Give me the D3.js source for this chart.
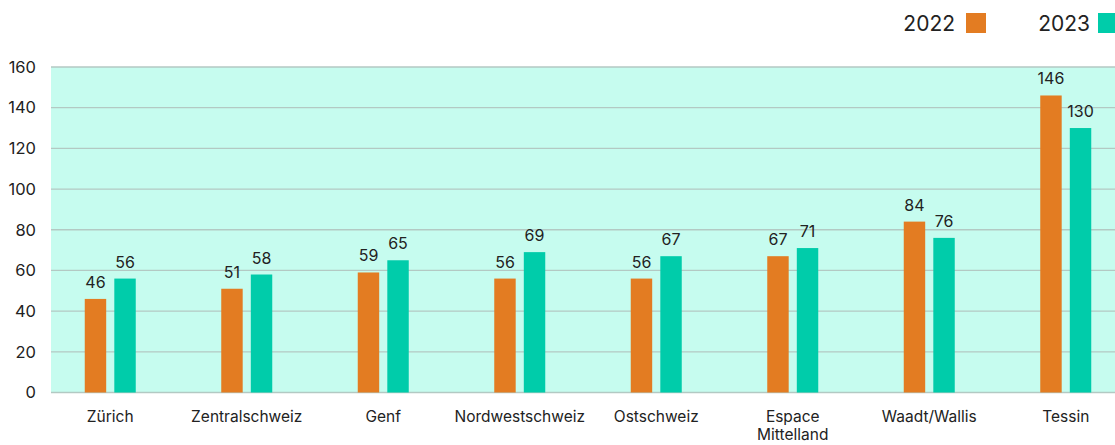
<!DOCTYPE html>
<html>
<head>
<meta charset="utf-8">
<script src="https://cdn.jsdelivr.net/npm/d3@7"></script>
<style>
  html, body { margin: 0; padding: 0; background: #ffffff; }
  svg { display: block; font-family: "Inter", "Noto Sans", sans-serif; }
</style>
</head>
<body>
<svg id="chart" width="1115" height="445"></svg>
<script>
// Regions and yearly values
const categories = ["Zürich", "Zentralschweiz", "Genf", "Nordwestschweiz", "Ostschweiz", "Espace Mittelland", "Waadt/Wallis", "Tessin"];
const series2022 = [46, 51, 59, 56, 56, 67, 84, 146];
const series2023 = [56, 58, 65, 69, 67, 71, 76, 130];
const seriesNames = ["2022", "2023"];
const yTicks = [0, 20, 40, 60, 80, 100, 120, 140, 160];

const colors = { "2022": "#e37c22", "2023": "#00ccaa" };

const svg = d3.select("#chart");
const plotLeft = 51, plotRight = 1115, plotTop = 67, plotBottom = 392.5;

const y = d3.scaleLinear().domain([0, 160]).range([plotBottom, plotTop]);
const x = d3.scaleBand().domain(categories).range([42, 1134]).paddingInner(0).paddingOuter(0);
const barW = 22, barGap = 7;
const xs = d3.scaleBand().domain(seriesNames).range([-(barW + barGap / 2), barW + barGap / 2]).paddingInner(barGap / (barW * 2 + barGap) * 2);

// Plot background
svg.append("rect")
  .attr("x", plotLeft).attr("y", plotTop)
  .attr("width", plotRight - plotLeft).attr("height", plotBottom - plotTop)
  .attr("fill", "#c6fcef");

// Gridlines
svg.append("g").selectAll("line").data(yTicks).join("line")
  .attr("x1", plotLeft).attr("x2", plotRight)
  .attr("y1", d => y(d)).attr("y2", d => y(d))
  .attr("stroke", "#b3c9c3").attr("stroke-width", 1.3);

// Y axis labels
const yAxis = d3.axisLeft(y).tickValues(yTicks).tickSize(0).tickPadding(0);
const gy = svg.append("g").attr("transform", "translate(36,0)").call(yAxis);
gy.select(".domain").remove();
gy.selectAll("text").attr("font-size", 16.5).attr("fill", "#222").attr("font-family", "Inter, 'Noto Sans', sans-serif");

// Bars
const data = categories.map((c, i) => ({ cat: c, vals: [
  { key: "2022", v: series2022[i] },
  { key: "2023", v: series2023[i] }
]}));

const groups = svg.append("g").selectAll("g").data(data).join("g")
  .attr("transform", d => `translate(${x(d.cat) + x.bandwidth() / 2},0)`);

groups.selectAll("rect").data(d => d.vals).join("rect")
  .attr("x", d => xs(d.key))
  .attr("width", xs.bandwidth())
  .attr("y", d => y(d.v))
  .attr("height", d => plotBottom - y(d.v))
  .attr("fill", d => colors[d.key]);

groups.selectAll("text.val").data(d => d.vals).join("text")
  .attr("class", "val")
  .attr("x", d => xs(d.key) + xs.bandwidth() / 2)
  .attr("y", d => y(d.v) - 11)
  .attr("text-anchor", "middle")
  .attr("font-size", 16)
  .attr("fill", "#222")
  .text(d => d.v);

// Category labels (two lines where needed)
const catLabels = svg.append("g").selectAll("text").data(categories).join("text")
  .attr("x", d => x(d) + x.bandwidth() / 2)
  .attr("y", 422)
  .attr("text-anchor", "middle")
  .attr("font-size", 15.5)
  .attr("fill", "#222");
catLabels.each(function(d) {
  const parts = d === "Espace Mittelland" ? ["Espace", "Mittelland"] : [d];
  const t = d3.select(this);
  parts.forEach((p, i) => {
    t.append("tspan").attr("x", x(d) + x.bandwidth() / 2).attr("dy", i === 0 ? 0 : 18).text(p);
  });
});

// Legend
const legend = [
  { key: "2022", tx: 955, sx: 966 },
  { key: "2023", tx: 1090, sx: 1098 }
];
const lg = svg.append("g");
lg.selectAll("text").data(legend).join("text")
  .attr("x", d => d.tx).attr("y", 31)
  .attr("text-anchor", "end")
  .attr("font-size", 21)
  .attr("fill", "#222")
  .text(d => d.key);
lg.selectAll("rect").data(legend).join("rect")
  .attr("x", d => d.sx).attr("y", 13)
  .attr("width", 20).attr("height", 20)
  .attr("fill", d => colors[d.key]);
</script>
</body>
</html>
